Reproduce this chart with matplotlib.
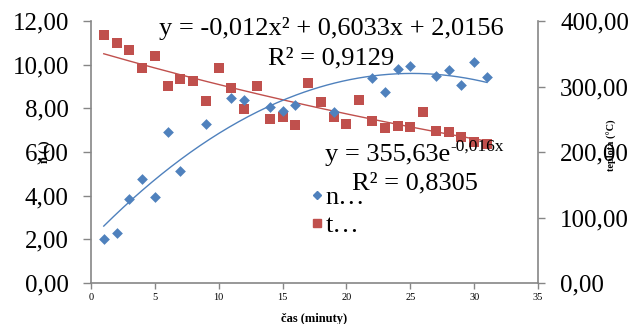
import numpy as np
import matplotlib
matplotlib.use("Agg")
import matplotlib.pyplot as plt

# data
n_x = [1, 2, 3, 4, 5, 6, 7, 9, 11, 12, 14, 15, 16, 19, 22, 23, 24, 25, 27, 28, 29, 30, 31]
n_y = [2.00, 2.30, 3.85, 4.75, 3.95, 6.90, 5.15, 7.28, 8.46, 8.38, 8.08, 7.90, 8.15, 7.85,
       9.39, 8.75, 9.82, 9.94, 9.48, 9.76, 9.05, 10.14, 9.42]
t_x = list(range(1, 32))
t_y = [378, 366, 356, 328, 347, 301, 312, 309, 278, 329, 298, 266, 301, 251, 254, 241,
       305, 277, 253, 243, 280, 247, 236, 240, 238, 261, 232, 231, 223, 215, 212]
poly_coef = [-0.012, 0.6033, 2.0156]
exp_a, exp_b = 355.63, -0.016

left_ticks = [0, 2, 4, 6, 8, 10, 12]
right_ticks = [0, 100, 200, 300, 400]
x_ticks = [0, 5, 10, 15, 20, 25, 30, 35]

BLUE = "#4F81BD"
RED = "#C0504D"
GRAY = "#868686"
SERIF = "Liberation Serif"

fig = plt.figure(figsize=(6.35, 3.24), dpi=100)
ax = fig.add_axes([91/635, 1-283/324, (538-91)/635, (283-21)/324])
ax2 = ax.twinx()

ax.set_xlim(0, 35)
ax.set_ylim(0, 12)
ax2.set_ylim(0, 400)

xs = np.linspace(1, 31, 200)
ax.plot(xs, np.polyval(poly_coef, xs), color=BLUE, lw=1.0, zorder=2)
ax2.plot(xs, exp_a*np.exp(exp_b*xs), color=RED, lw=1.0, zorder=2)
ax.scatter(n_x, n_y, marker="D", s=30, color=BLUE, zorder=3, linewidths=0)
ax2.scatter(t_x, t_y, marker="s", s=55, color=RED, zorder=3, linewidths=0)

ax.set_xticks(x_ticks)
ax.set_xticklabels([str(v) for v in x_ticks], fontfamily=SERIF, fontsize=7.5)
ax.set_yticks(left_ticks)
ax.set_yticklabels([f"{v:.2f}".replace(".", ",") for v in left_ticks], fontfamily=SERIF, fontsize=18)
ax2.set_yticks(right_ticks)
ax2.set_yticklabels([f"{v:.2f}".replace(".", ",") for v in right_ticks], fontfamily=SERIF, fontsize=18)

for a in (ax, ax2):
    a.spines["top"].set_visible(False)
    for s in ("left", "right", "bottom"):
        a.spines[s].set_color(GRAY)
        a.spines[s].set_linewidth(1.2)
ax.spines["right"].set_visible(False)
ax2.spines["left"].set_visible(False)
ax2.spines["bottom"].set_visible(False)
ax.tick_params(axis="y", length=6, color=GRAY, width=1, pad=10)
ax.tick_params(axis="x", length=4, color=GRAY, width=1, pad=3)
ax2.tick_params(axis="y", length=5, color=GRAY, width=1, pad=11)
ax.patch.set_visible(False)
ax.set_zorder(ax2.get_zorder() + 1)

ax.set_xlabel("čas (minuty)", fontfamily=SERIF, fontweight="bold", fontsize=9, labelpad=8)
fig.text(45/635, 1-152/324, "n (-)", rotation=90, fontfamily=SERIF, fontweight="bold",
         fontsize=9, ha="center", va="center")
fig.text(612/635, 1-145/324, "teplota (°C)", rotation=90, fontfamily=SERIF, fontweight="bold",
         fontsize=7.5, ha="center", va="center")

fs = 19
fig.text(331/635, 1-28/324, "y = -0,012x² + 0,6033x + 2,0156", fontfamily=SERIF, fontsize=fs,
         ha="center", va="center")
fig.text(331/635, 1-58/324, "R² = 0,9129", fontfamily=SERIF, fontsize=fs, ha="center", va="center")
t1 = fig.text(325/635, 1-155/324, "y = 355,63e", fontfamily=SERIF, fontsize=fs, ha="left", va="center")
fig.canvas.draw()
bb = t1.get_window_extent()
fig.text(bb.x1/635, 1-147/324, "-0,016x", fontfamily=SERIF, fontsize=12.5, ha="left", va="center")
fig.text(415/635, 1-183/324, "R² = 0,8305", fontfamily=SERIF, fontsize=fs, ha="center", va="center")

# legend
leg_handles = [
    plt.Line2D([], [], marker="D", color=BLUE, linestyle="none", markersize=4.5),
    plt.Line2D([], [], marker="s", color=RED, linestyle="none", markersize=6),
]
leg = fig.legend(leg_handles, ["n…", "t…"], loc="upper left", bbox_to_anchor=(310/635, 1-186/324),
                 frameon=False, prop={"family": SERIF, "size": fs}, handlelength=0.5,
                 handletextpad=0.1, labelspacing=0.15, borderpad=0, borderaxespad=0)

fig.savefig("out.png", dpi=100)
